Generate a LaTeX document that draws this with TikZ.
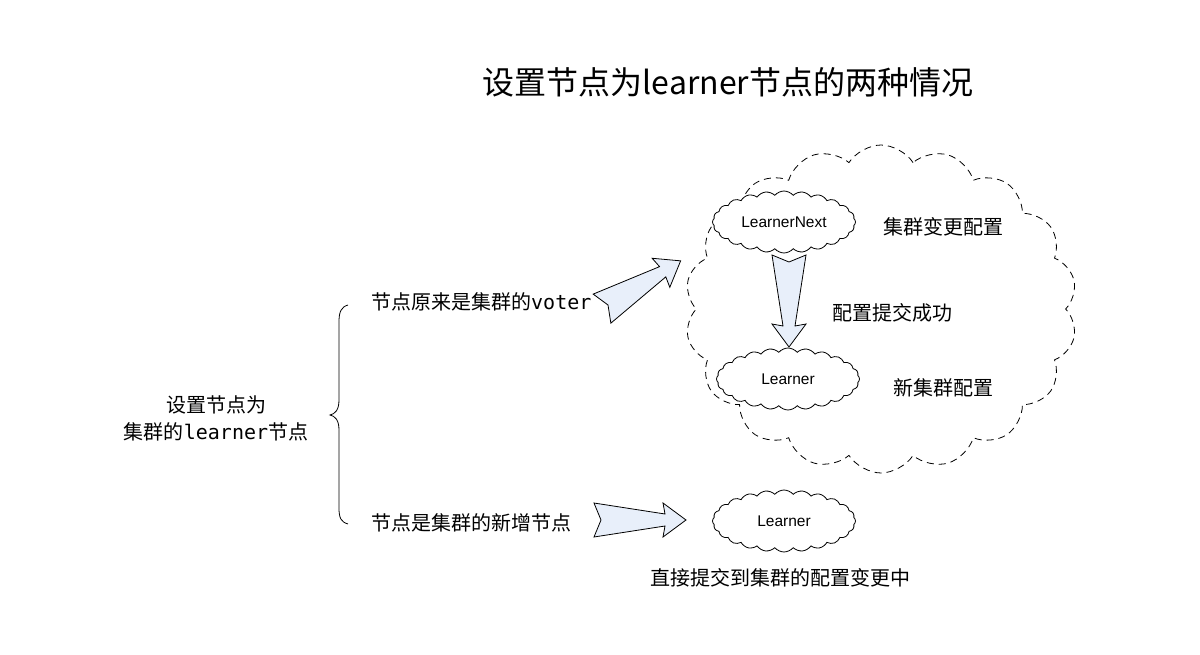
\documentclass[tikz,border=0pt]{standalone}
\usepackage{fontspec}
\setmainfont{Noto Sans CJK SC}
\newfontfamily\monolat{DejaVu Sans Mono}
\newfontfamily\helv{Liberation Sans}
\usetikzlibrary{shapes.symbols}
\definecolor{arrowfill}{HTML}{E8EFFA}
\tikzset{
  txt/.style={font=\fontsize{20}{27}\selectfont, inner sep=0pt},
  smallcloud/.style={cloud, cloud puffs=24, cloud puff arc=100, aspect=2.3, draw, fill=white,
    line width=0.8pt, minimum width=143pt, minimum height=62pt, inner sep=1pt,
    font=\helv\fontsize{15.5}{18}\selectfont},
  bigcloud/.style={cloud, cloud puffs=18, cloud puff arc=115, aspect=1.2, draw,
    dash pattern=on 7pt off 5pt, line width=0.8pt, minimum width=392pt, minimum height=328pt},
  blockarrow/.style={draw, fill=arrowfill, line width=0.8pt, line join=miter},
  blockarr/.pic={\draw[blockarrow] (0,0) -- (-7,17) -- (64,6) -- (62,17) -- (85,0) -- (62,-17) -- (64,-6) -- (-7,-17) -- cycle;}
}
\begin{document}
\begin{tikzpicture}[x=1pt,y=-1pt]
\useasboundingbox (0,0) rectangle (1200,655);
\fill[white] (0,0) rectangle (1200,655);

\node[font=\fontsize{32}{38}\selectfont] (title) at (728,82) {设置节点为learner节点的两种情况};

\node[txt, align=center] (root) at (216,418) {设置节点为\\集群的{\monolat learner}节点};
\node[txt, anchor=west] (voter) at (371,302) {节点原来是集群的{\monolat voter}};
\node[txt, anchor=west] (newn) at (371,523) {节点是集群的新增节点};

\draw[line width=0.8pt] (348,305) .. controls (341,307) and (339,312) .. (339,322) -- (339,400)
  .. controls (339,410) and (335,414) .. (330,415) .. controls (335,416) and (339,420) .. (339,430)
  -- (339,508) .. controls (339,518) and (341,522) .. (348,524);

\node[bigcloud] (cluster) at (881,309) {};
\node[smallcloud] (next) at (784,222) {LearnerNext};
\node[smallcloud] (learner) at (788,379) {Learner};
\node[smallcloud] (learner2) at (784,521) {Learner};

\node[txt, anchor=west] (l1) at (883,227) {集群变更配置};
\node[txt, anchor=west] (l2) at (832,313) {配置提交成功};
\node[txt, anchor=west] (l3) at (893,388) {新集群配置};
\node[txt] (l4) at (780,578) {直接提交到集群的配置变更中};

\coordinate (a1) at (608,305);
\coordinate (a2) at (601,520);
\coordinate (a3) at (789,262);
\pic[rotate=31.3] at (a1) {blockarr};
\pic at (a2) {blockarr};
\pic[rotate=-90] at (a3) {blockarr};
\end{tikzpicture}
\end{document}
